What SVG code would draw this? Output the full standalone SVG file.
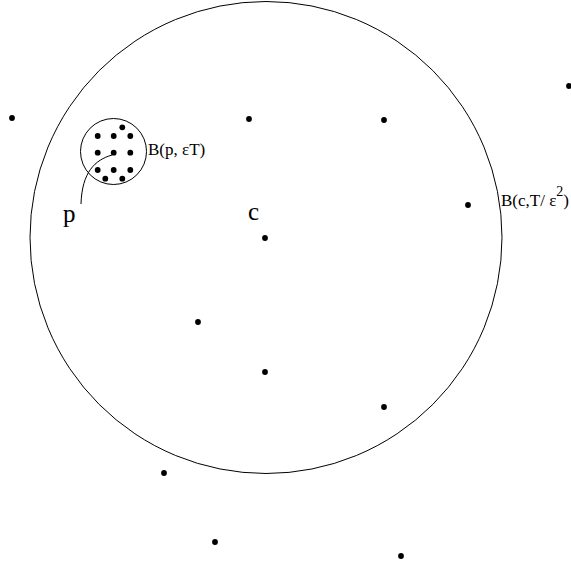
<svg xmlns="http://www.w3.org/2000/svg" width="571" height="570" viewBox="0 0 571 570">
<style>
.ring{fill:none;stroke:#000;stroke-width:1}
.dot{fill:#000}
.lbl{font-family:"Liberation Serif","Times New Roman",serif;fill:#000}
</style>
<rect width="571" height="570" fill="#fff"/>
<g id="bigball">
<circle class="ring" cx="266" cy="237.5" r="236"/>
<text class="lbl" x="501" y="206" font-size="17">B(c,T/ ε<tspan font-size="14" dy="-10">2</tspan><tspan dy="10">)</tspan></text>
</g>
<g id="smallball">
<circle class="ring" cx="113.5" cy="151.5" r="33"/>
<text class="lbl" x="148" y="155" font-size="17">B(p, εT)</text>
</g>
<g id="connectors">
<path class="ring" d="M112,155 C95,160 82,172 81,204"/>
</g>
<g id="labels">
<text class="lbl" x="63" y="222" font-size="25">p</text>
<text class="lbl" x="248" y="220" font-size="25">c</text>
</g>
<g id="cluster">
<circle class="dot" cx="122.3" cy="127.3" r="2.9"/>
<circle class="dot" cx="97.7" cy="136" r="2.9"/>
<circle class="dot" cx="113.7" cy="136" r="2.9"/>
<circle class="dot" cx="130.3" cy="136" r="2.9"/>
<circle class="dot" cx="97.7" cy="152.7" r="2.9"/>
<circle class="dot" cx="113.7" cy="152.7" r="2.9"/>
<circle class="dot" cx="130.3" cy="152.7" r="2.9"/>
<circle class="dot" cx="97.7" cy="170" r="2.9"/>
<circle class="dot" cx="113.7" cy="170" r="2.9"/>
<circle class="dot" cx="130.3" cy="170" r="2.9"/>
<circle class="dot" cx="105.3" cy="178.7" r="2.9"/>
<circle class="dot" cx="122.3" cy="178.7" r="2.9"/>
</g>
<g id="points">
<circle class="dot" cx="12" cy="118" r="2.9"/>
<circle class="dot" cx="249" cy="119" r="2.9"/>
<circle class="dot" cx="384" cy="120" r="2.9"/>
<circle class="dot" cx="569" cy="86" r="2.9"/>
<circle class="dot" cx="468" cy="205" r="2.9"/>
<circle class="dot" cx="265" cy="238" r="2.9"/>
<circle class="dot" cx="198" cy="322" r="2.9"/>
<circle class="dot" cx="265" cy="372" r="2.9"/>
<circle class="dot" cx="384" cy="407" r="2.9"/>
<circle class="dot" cx="164" cy="473" r="2.9"/>
<circle class="dot" cx="215" cy="542" r="2.9"/>
<circle class="dot" cx="401" cy="556" r="2.9"/>
</g>
</svg>
